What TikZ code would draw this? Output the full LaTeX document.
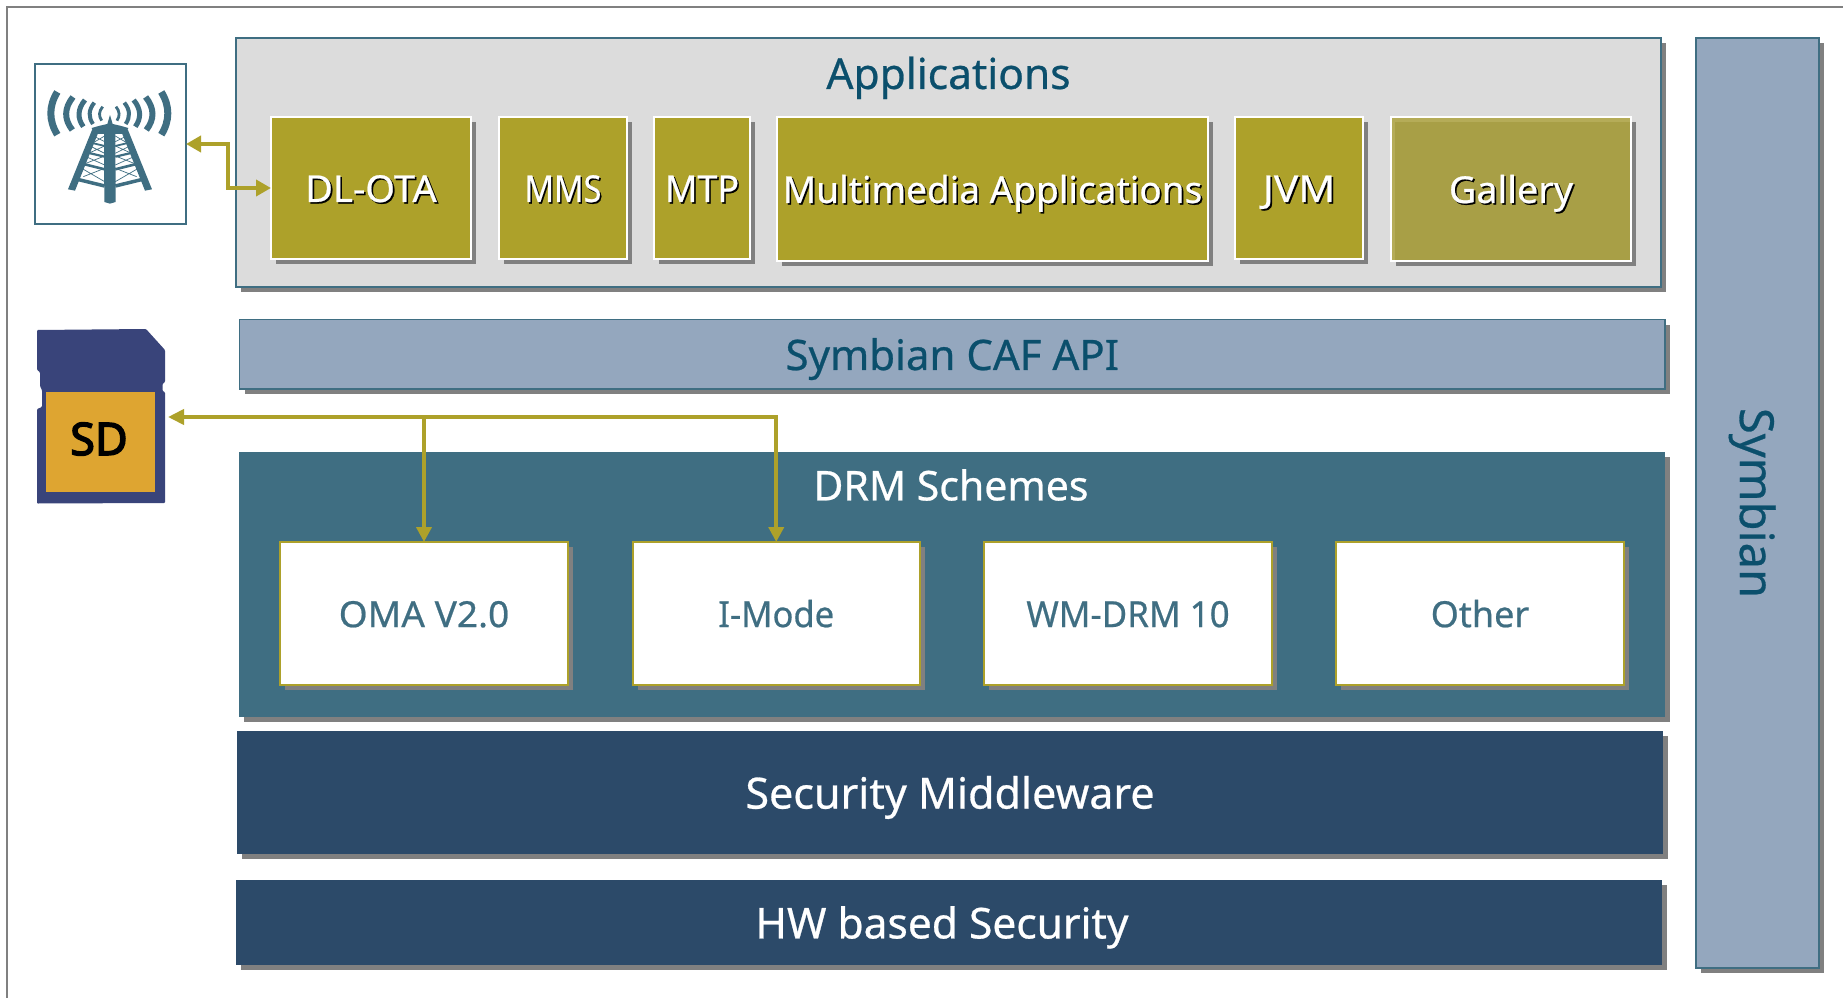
\documentclass[tikz,border=0pt]{standalone}
\usepackage{fontspec}
\setmainfont{Noto Sans}[FakeBold=0.6]
\newfontfamily\sdfont{Noto Sans}[FakeBold=3.2]
\usetikzlibrary{shadows,arrows.meta,calc}
\definecolor{teal1}{HTML}{3F6E82}
\definecolor{navy1}{HTML}{2C4A69}
\definecolor{steel}{HTML}{94A7BE}
\definecolor{paneg}{HTML}{DCDCDC}
\definecolor{olive1}{HTML}{ADA12A}
\definecolor{olive2}{HTML}{A89F46}
\definecolor{olive3}{HTML}{B5AC58}
\definecolor{shad}{HTML}{808080}
\definecolor{head}{HTML}{0B4F6C}
\definecolor{sdnavy}{HTML}{39447A}
\definecolor{sdyel}{HTML}{DEA531}
\newcommand{\shtext}[2][1]{\scalebox{#1}[1]{\rlap{\kern1.6pt\raisebox{-1.6pt}{\textcolor{black}{#2}}}#2}}
\newcommand{\sx}[2]{\scalebox{#1}[1]{#2}}
\tikzset{
  x=1pt,y=-1pt,
  extent/.style args={#1,#2,#3,#4}{at={({(#1+#3)/2},{(#2+#4)/2})},minimum width={#3-(#1)},minimum height={#4-(#2)}},
  lab/.style={font=\fontsize{#1}{#1}\selectfont,text height={0.714*#1+1.5},text depth=0pt},
  base/.style={rectangle,inner sep=0pt,outer sep=0pt,general shadow={fill=shad,shadow xshift=5pt,shadow yshift=-5pt}},
  pane/.style={base,draw=teal1,line width=1.8pt,fill=paneg},
  bar/.style={base,draw=teal1,line width=1.8pt,fill=steel,text=head},
  oli/.style={base,draw=white,line width=1.8pt,fill=olive1,text=white,lab=#1},
  oli/.default=37,
  scheme/.style={base,draw=olive1,line width=2pt,fill=white,text=teal1,lab=36},
  solid block/.style={base,fill=#1,text=white},
  link/.style={draw=olive1,line width=3.8pt},
  tipped/.style={link,arrows={#1}},
  tw/.style={draw=teal1,line cap=butt},
}
\begin{document}
\begin{tikzpicture}
\useasboundingbox (0,0) rectangle (1843,998);
\fill[white] (0,0) rectangle (1843,998);
\draw[color=shad,line width=2pt] (1843,7) -- (7,7) -- (7,998);

% Applications
\node[pane,extent={236,38,1661,287}] (apps) {};
\node[text=head,lab=42.5] (appt) at (948.5,73) {Applications};
\node[oli,extent={271,117,471,259}] (dl) {\shtext[1.03]{DL-OTA}};
\node[oli,extent={499,117,627,259}] (mms) {\shtext[.88]{MMS}};
\node[oli,extent={654,117,750,259}] (mtp) {\shtext[.97]{MTP}};
\node[oli,extent={777,117,1208,261}] (mm) {\shtext{Multimedia Applications}};
\node[oli,extent={1235,117,1363,259}] (jvm) {\shtext[1.1]{JVM}};
\node[oli,fill=olive2,extent={1391,117,1631,261}] (gal) {};
\fill[olive3] ($(gal.north west)+(1,1)$) rectangle ($(gal.north east)+(-1,5)$);
\fill[olive3] ($(gal.north west)+(1,1)$) rectangle ($(gal.south west)+(4,-1)$);
\node[text=white,lab=37] (galt) at (gal.center) {\shtext[1.02]{Gallery}};

% CAF
\node[bar,lab=42,extent={239.5,319.5,1665,389}] (caf) {Symbian CAF API};

% DRM
\node[solid block=teal1,extent={239,452,1665,717}] (drm) {};
\node[text=white,lab=41] (drmt) at (951,485) {DRM Schemes};
\node[scheme,extent={280,542,568,685}] (oma) {\sx{1.03}{OMA V2.0}};
\node[scheme,extent={632.5,542,920,685}] (im) {\sx{.96}{I-Mode}};
\node[scheme,extent={984,542,1272,685}] (wm) {\sx{.97}{WM-DRM 10}};
\node[scheme,extent={1336,542,1624,685}] (oth) {Other};

% Lower blocks
\node[solid block=navy1,lab=43,extent={237,731,1663,854}] (sec) {Security Middleware};
\node[solid block=navy1,lab=42.5,extent={236,880,1662,965}] (hw) {HW based Security\kern14pt};

% Symbian
\node[bar,extent={1696,38,1819,968}] (sym) {};
\node[text=head,lab=47,rotate=-90] (symt) at (sym.center) {Symbian};

% Tower
\node[rectangle,draw=teal1,line width=1.6pt,fill=white,outer sep=0pt,inner sep=0pt,extent={35,64,186,224}] (tower) {};
\begin{scope}[x=0.3333pt,y=-0.3333pt]
  \draw[tw,line width=7pt] (172,276) .. controls (146,318) and (146,362) .. (172,404);
  \draw[tw,line width=6pt] (219,291) .. controls (192,325) and (192,358) .. (217,390);
  \draw[tw,line width=5pt] (255,300) .. controls (232,328) and (232,355) .. (250,380);
  \draw[tw,line width=4pt] (283,308) .. controls (265,330) and (265,352) .. (279,372);
  \draw[tw,line width=2.8pt] (308,320) .. controls (296,335) and (296,348) .. (305,362);
  \draw[tw,line width=7pt] (484,276) .. controls (510,318) and (510,362) .. (484,404);
  \draw[tw,line width=6pt] (437,291) .. controls (464,325) and (464,358) .. (439,390);
  \draw[tw,line width=5pt] (401,300) .. controls (424,328) and (424,355) .. (406,380);
  \draw[tw,line width=4pt] (373,308) .. controls (391,330) and (391,352) .. (377,372);
  \draw[tw,line width=2.8pt] (348,320) .. controls (360,335) and (360,348) .. (351,362);
  \fill[teal1] (275,384) -- (300,377) -- (322,372) -- (330,345) -- (338,372) -- (360,377) -- (385,384) -- (378,402) -- (282,402) -- cycle;
  \fill[teal1] (312,385) -- (346,385) -- (347,606) -- (330,611) -- (313,606) -- cycle;
  \fill[teal1] (276,390) -- (298,390) -- (225,572) -- (204,568) -- cycle;
  \fill[teal1] (384,390) -- (362,390) -- (435,572) -- (456,568) -- cycle;
  \draw[tw,line width=3.5pt] (232,538) -- (314,558) (428,538) -- (346,558);
  \draw[tw,line width=2.6pt] (250,492) -- (314,508) (410,492) -- (346,508);
  \draw[tw,line width=2.2pt] (262,458) -- (314,470) (398,458) -- (346,470);
  \draw[tw,line width=1.8pt] (272,428) -- (314,438) (388,428) -- (346,438);
  \draw[tw,line width=.7pt] (245,505) -- (314,545) (250,530) -- (314,505) (415,505) -- (346,545) (410,530) -- (346,505);
  \draw[tw,line width=.7pt] (258,470) -- (314,495) (258,490) -- (314,468) (402,470) -- (346,495) (402,490) -- (346,468);
  \draw[tw,line width=.7pt] (270,438) -- (314,460) (270,458) -- (314,438) (390,438) -- (346,460) (390,458) -- (346,438);
  \draw[tw,line width=.7pt] (280,408) -- (314,425) (280,428) -- (314,408) (380,408) -- (346,425) (380,428) -- (346,408);
\end{scope}

% SD card
\fill[sdnavy,rounded corners=1pt] (37,330) -- (146,329) -- (165,350) -- (165,382) -- (162.5,384) -- (162.5,391) -- (165,392) -- (165,503) -- (37,503.5) -- (37,409) -- (42,407) -- (42,390) -- (40,386) -- (40,372) -- (37,370) -- cycle;
\node[rectangle,fill=sdyel,inner sep=0pt,outer sep=0pt,extent={46,392,155,492}] (sd) {};
\node[text=black,font=\sdfont\fontsize{45}{45}\selectfont] (sdt) at (99,439) {SD};
\coordinate (sdport) at (168,417);

% Connectors
\draw[tipped={Triangle[length=15pt,width=16pt]-Triangle[length=15pt,width=16pt]}] (tower.east) -- ++(41.7,0) |- (dl.west);
\draw[tipped={Triangle[length=16pt,width=15pt]-Triangle[length=15pt,width=15pt]}] (sdport) -| (im.north);
\draw[tipped={-Triangle[length=15pt,width=15pt]}] (oma.north |- sdport) -- (oma.north);
\end{tikzpicture}
\end{document}
